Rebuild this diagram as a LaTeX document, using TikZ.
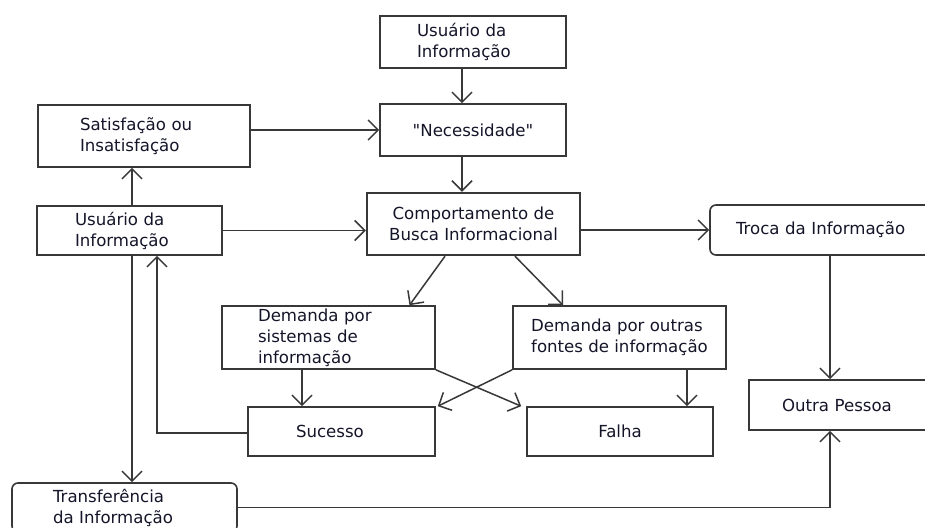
\documentclass[tikz,border=0pt]{standalone}
\usepackage{fontspec}
\setmainfont{DejaVu Sans}[Ligatures=TeXOff]
\usetikzlibrary{arrows.meta}
\definecolor{linec}{HTML}{383838}
\definecolor{txtc}{HTML}{15152A}
\begin{document}
\begin{tikzpicture}[x=1pt,y=-1pt,
  box/.style={draw=linec, line width=1.6pt, fill=white, inner ysep=0pt, text=txtc,
    font=\fontsize{16.6}{21}\selectfont},
  rbox/.style={box, rounded corners=6pt},
  arr/.style={draw=linec, line width=1.5pt, -{Straight Barb[length=10pt,width=20pt]}}]
\useasboundingbox (0,0) rectangle (925,527);
\clip (0,0) rectangle (925,527);
\fill[white] (0,0) rectangle (925,527);

\node[box, minimum width=186pt, minimum height=52pt, inner xsep=37pt, text width=112pt, align=left] (uitop) at (473,42) {Usuário da\\Informação};
\node[box, minimum width=186pt, minimum height=52pt, align=center] (necess) at (473,130) {"Necessidade"};
\node[box, line width=2.4pt, minimum width=213pt, minimum height=62pt, align=center] (cbi) at (473.5,224) {Comportamento de\\Busca Informacional};
\node[box, minimum width=212pt, minimum height=62pt, inner xsep=42pt, text width=128pt, align=left] (satis) at (144,136) {Satisfação ou\\Insatisfação};
\node[box, minimum width=185pt, minimum height=49pt, inner xsep=38pt, text width=109pt, align=left] (uileft) at (129.5,230.5) {Usuário da\\Informação};
\node[rbox, minimum width=230pt, minimum height=50pt, inner xsep=26pt, text width=178pt, align=left] (troca) at (825,230) {Troca da Informação};
\node[box, minimum width=191pt, minimum height=50pt, inner xsep=33pt, text width=125pt, align=left] (outra) at (844.5,405) {Outra Pessoa};
\node[box, minimum width=213pt, minimum height=63pt, inner xsep=36pt, text width=141pt, align=left] (demsis) at (328.5,337.5) {Demanda por\\sistemas de\\informação};
\node[box, minimum width=213pt, minimum height=63pt, inner xsep=0pt, align=left] (demout) at (619.5,337.5) {Demanda por outras\\fontes de informação};
\node[box, minimum width=187pt, minimum height=49pt, inner xsep=48pt, text width=91pt, align=left] (sucesso) at (341.5,431.5) {Sucesso};
\node[box, minimum width=186pt, minimum height=49pt, align=center] (falha) at (620,431.5) {Falha};
\node[rbox, minimum width=225pt, minimum height=49pt, inner xsep=41pt, text width=143pt, align=left] (transf) at (124.5,507.5) {Transferência\\da Informação};

\coordinate (u1) at ([xshift=2.5pt]uileft.north);
\coordinate (u2) at ([xshift=2.5pt]uileft.south);
\coordinate (u3) at ([xshift=27.5pt]uileft.south);
\coordinate (d1) at ([xshift=-26.5pt]demsis.south);
\coordinate (d2) at ([xshift=67.5pt]demout.south);
\coordinate (tp) at ([xshift=-14.5pt]outra.north);
\coordinate (bp) at ([xshift=-14.5pt]outra.south);

\draw[arr] ([xshift=-11pt]uitop.south) -- ([xshift=-11pt]necess.north);
\draw[arr] ([xshift=-11pt]necess.south) -- ([xshift=-11.5pt]cbi.north);
\draw[arr] (necess.west -| satis.east) -- (necess.west);
\draw[arr] (u1) -- (u1 |- satis.south);
\draw[arr] (uileft.east) -- (uileft.east -| cbi.west);
\draw[arr] (troca.west -| cbi.east) -- (troca.west);
\draw[arr] ([xshift=-28.5pt]cbi.south) -- ([xshift=81pt]demsis.north);
\draw[arr] ([xshift=41.5pt]cbi.south) -- ([xshift=-56.5pt]demout.north);
\draw[arr] (d1) -- (d1 |- sucesso.north);
\draw[arr] (d2) -- (d2 |- falha.north);
\draw[arr] (demsis.south east) -- ([xshift=-5pt]falha.north west);
\draw[arr] (demout.south west) -- ([xshift=2pt]sucesso.north east);
\draw[arr] ([yshift=-1.5pt]sucesso.west) -| (u3);
\draw[arr] (u2) -- (u2 |- transf.north);
\draw[arr] (troca.south -| tp) -- (tp);
\draw[arr] (transf.east) -| (bp);
\end{tikzpicture}
\end{document}
